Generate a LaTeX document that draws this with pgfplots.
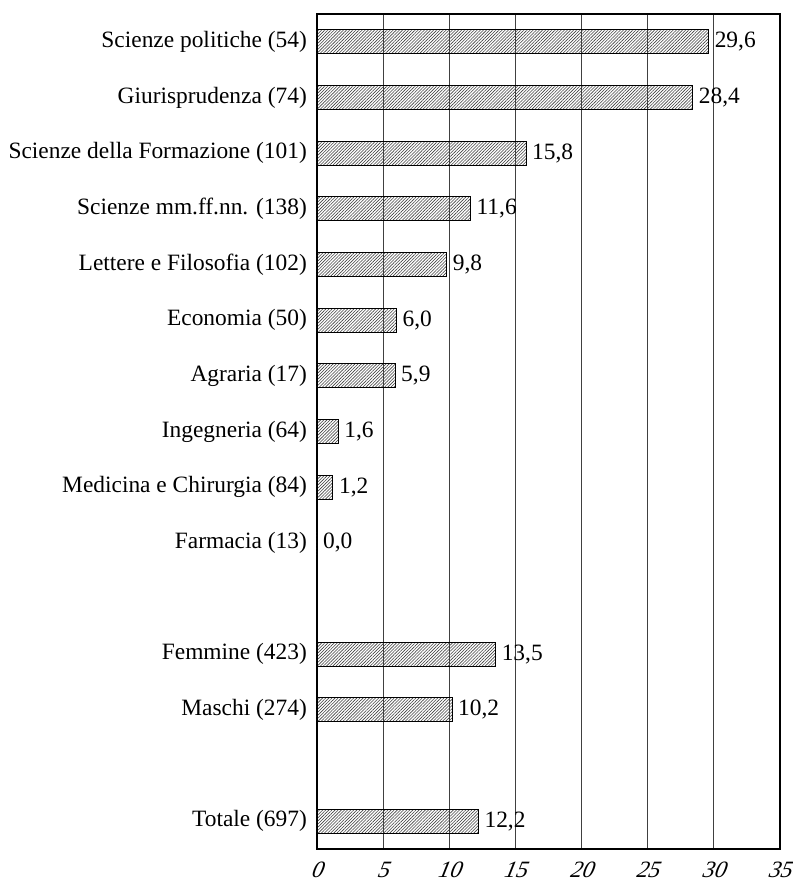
\documentclass[border=0pt]{standalone}
\usepackage{pgfplots}
\pgfplotsset{compat=1.18}
\usepackage{fontspec}
\setmainfont{Liberation Serif}[ItalicFont={Liberation Serif Italic}]
\newfontfamily\tickfont{Liberation Serif}[FakeSlant=0.22]
\usetikzlibrary{patterns.meta}
\begin{document}
\fontsize{11.7}{14}\selectfont
\begin{tikzpicture}
\begin{axis}[
  scale only axis, width=231.5pt, height=417.5pt,
  xbar, bar width=12pt,
  xmin=0, xmax=35, ymin=-0.5, ymax=14.5, y dir=reverse,
  xtick={0,5,...,35}, ytick={0,1,2,3,4,5,6,7,8,9,11,12,14},
  yticklabels={Scienze politiche (54),Giurisprudenza (74),Scienze della Formazione (101),Scienze mm.ff.nn. (138),Lettere e Filosofia (102),Economia (50),Agraria (17),Ingegneria (64),Medicina e Chirurgia (84),Farmacia (13),Femmine (423),Maschi (274),Totale (697)},
  xmajorgrids, grid style={black!75, line width=0.5pt},
  major tick length=0pt,
  axis line style={black, line width=0.6pt},
  xticklabels={0,5,10,15,20,25,30,35},
  xticklabel style={yshift=-2.5pt, font=\tickfont\itshape},
  yticklabel style={xshift=-1pt},
  nodes near coords={\pgfmathprintnumber[fixed,fixed zerofill,precision=1,use comma,assume math mode=true]{\pgfplotspointmeta}},
  every node near coord/.append style={black, xshift=-1pt},
]
\addplot[draw=black, line width=0.4pt, pattern={Lines[angle=45,distance=1.1pt,line width=0.3pt]}, pattern color=black!75] coordinates {
(29.6,0) (28.4,1) (15.8,2) (11.6,3) (9.8,4) (6.0,5) (5.9,6) (1.6,7) (1.2,8) (0.0,9) (13.5,11) (10.2,12) (12.2,14)};
\coordinate (SW) at (axis description cs:0,0);
\coordinate (NE) at (axis description cs:1,1);
\end{axis}
\pgfresetboundingbox
\path ([xshift=-158.5pt,yshift=-20.5pt]SW) rectangle ([xshift=6.5pt,yshift=7pt]NE);
\end{tikzpicture}
\end{document}
